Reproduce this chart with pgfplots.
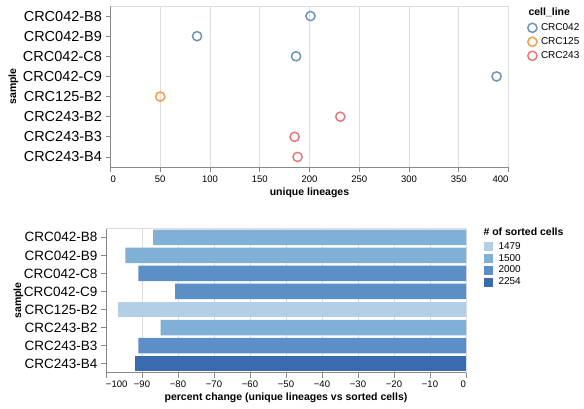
\documentclass[border=0pt]{standalone}
\usepackage{pgfplots}
\pgfplotsset{compat=1.18}
\usepackage{fontspec}
\setmainfont{Liberation Sans}
\definecolor{c042}{HTML}{4C78A8}
\definecolor{c125}{HTML}{F58518}
\definecolor{c243}{HTML}{E45756}
\definecolor{s1479}{HTML}{B2CFE5}
\definecolor{s1500}{HTML}{80B0D5}
\definecolor{s2000}{HTML}{5B8FC5}
\definecolor{s2254}{HTML}{3A6BAE}
\definecolor{gridc}{HTML}{DDDDDD}
\definecolor{domc}{HTML}{888888}
\pgfplotsset{
  mystyle/.style={
    scale only axis,
    ymin=-0.5, ymax=7.5, y dir=reverse,
    ytick={0,...,7},
    yticklabels={CRC042-B8,CRC042-B9,CRC042-C8,CRC042-C9,CRC125-B2,CRC243-B2,CRC243-B3,CRC243-B4},
    axis x line*=bottom, axis y line*=left,
    axis line style={domc, line width=0.8pt, -},
    tick style={domc, line width=0.8pt},
    major tick length=5pt, tick align=outside,
    xmajorgrids, grid style={gridc, line width=0.8pt},
    xticklabel style={font=\fontsize{9.5}{10}\selectfont, text=black},
    xlabel style={at={(axis description cs:0.5,0)}, anchor=north, inner sep=0pt, font=\fontsize{10.5}{12}\selectfont\bfseries},
  }
}
\begin{document}
\begin{tikzpicture}[x=1pt,y=1pt]
\useasboundingbox (0,0) rectangle (584,-409);
% ---------- top chart ----------
\begin{axis}[mystyle,
  at={(110.5pt,-167pt)}, anchor=south west,
  width=398pt, height=161pt,
  xmin=0, xmax=400,
  xtick={0,50,...,400},
  xticklabels={\rlap{0},50,100,150,200,250,300,350,\llap{400}},
  yticklabel style={font=\fontsize{14.5}{15}\selectfont, text=black},
  xlabel={unique lineages},
  xlabel style={yshift=-21pt},
  legend style={at={(axis description cs:1,1)}, anchor=north west, xshift=19.1pt, yshift=-17pt,
    draw=none, fill=none, inner sep=0pt, row sep=4.8pt, column sep=4pt,
    nodes={inner sep=0pt, text height=7pt, text depth=2pt},
    font=\fontsize{10}{11}\selectfont},
  legend cell align=left,
  legend image code/.code={\draw[#1] plot coordinates {(0pt,0pt)};},
]
\addplot[only marks, mark=o, mark size=4.6pt, line width=1.5pt, c042!80!white] coordinates {
(201,0) (87,1) (186.5,2) (388,3)};
\addlegendentry{CRC042}
\addplot[only marks, mark=o, mark size=4.6pt, line width=1.5pt, c125!80!white] coordinates {
(50,4)};
\addlegendentry{CRC125}
\addplot[only marks, mark=o, mark size=4.6pt, line width=1.5pt, c243!80!white] coordinates {
(231,5) (185,6) (188,7)};
\addlegendentry{CRC243}
\draw[gridc, line width=0.8pt] (axis description cs:0,1) -- (axis description cs:1,1) -- (axis description cs:1,0);
\end{axis}
\node[anchor=base west, inner sep=0pt, font=\fontsize{10.5}{12}\selectfont\bfseries] at (528.3,-15.6) {cell\_line};
\node[rotate=90, inner sep=0pt, font=\fontsize{10.5}{12}\selectfont\bfseries] at (13.5,-86.5) {sample};
% ---------- bottom chart ----------
\begin{axis}[mystyle,
  at={(106pt,-372.7pt)}, anchor=south west,
  width=360pt, height=144.4pt,
  xmin=-100, xmax=0,
  xtick={-100,-90,...,0},
  xticklabels={\rlap{−100},−90,−80,−70,−60,−50,−40,−30,−20,−10,\llap{0}},
  yticklabel style={font=\fontsize{13.5}{14}\selectfont, text=black},
  xlabel={percent change (unique lineages vs sorted cells)},
  xlabel style={yshift=-20pt},
  xbar, bar width=15.5pt, bar shift=0pt,
  legend style={at={(axis description cs:1,1)}, anchor=north west, xshift=18pt, yshift=-13.9pt,
    draw=none, fill=none, inner sep=0pt, row sep=2.7pt, column sep=5.3pt,
    nodes={inner sep=0pt, text height=7pt, text depth=2pt},
    font=\fontsize{10}{11}\selectfont},
  legend cell align=left,
  legend image code/.code={\fill[#1] (0pt,-4.5pt) rectangle (9pt,4.5pt);},
]
\addplot[fill=s1479, draw=none] coordinates {(-96.8,4)};
\addlegendentry{1479}
\addplot[fill=s1500, draw=none] coordinates {(-86.9,0) (-94.6,1) (-84.8,5)};
\addlegendentry{1500}
\addplot[fill=s2000, draw=none] coordinates {(-91.0,2) (-80.8,3) (-91.0,6)};
\addlegendentry{2000}
\addplot[fill=s2254, draw=none] coordinates {(-91.9,7)};
\addlegendentry{2254}
\draw[gridc, line width=0.8pt] (axis description cs:0,1) -- (axis description cs:1,1) -- (axis description cs:1,0);
\end{axis}
\node[anchor=base west, inner sep=0pt, font=\fontsize{10.5}{12}\selectfont\bfseries] at (483.3,-235.5) {\# of sorted cells};
\node[rotate=90, inner sep=0pt, font=\fontsize{10.5}{12}\selectfont\bfseries] at (18.5,-300.5) {sample};
\end{tikzpicture}
\end{document}
